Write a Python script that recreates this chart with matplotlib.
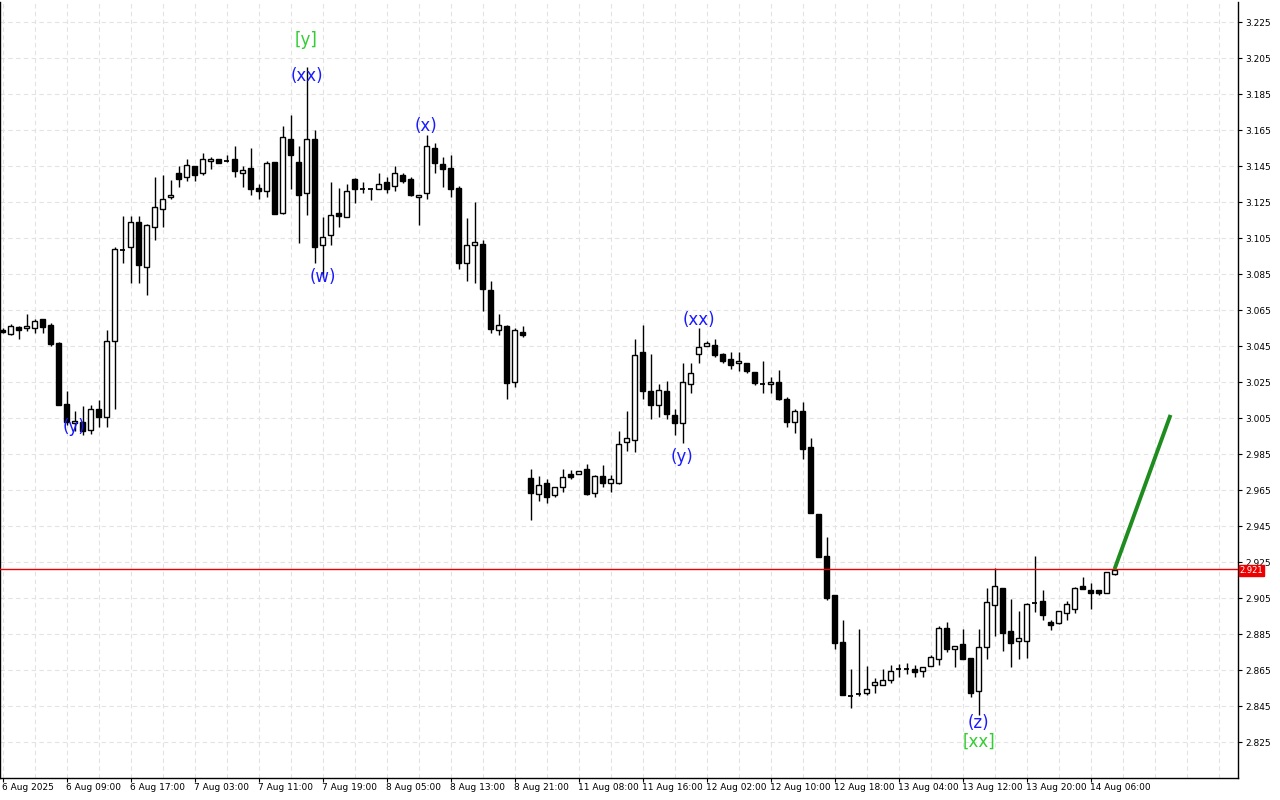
import matplotlib
matplotlib.use("Agg")
import matplotlib.pyplot as plt
import matplotlib.transforms as mtransforms
import numpy as np

opens = [3.0540, 3.0517, 3.0557, 3.0550, 3.0550, 3.0598, 3.0568, 3.0468, 3.0128, 3.0024,
         3.0028, 2.9983, 3.0098, 3.0054, 3.0476, 3.0987, 3.0998, 3.1140, 3.0887, 3.1109,
         3.1209, 3.1276, 3.1409, 3.1387, 3.1450, 3.1409, 3.1476, 3.1487, 3.1477, 3.1487,
         3.1409, 3.1439, 3.1328, 3.1309, 3.1472, 3.1187, 3.1598, 3.1472, 3.1298, 3.1598,
         3.1009, 3.1068, 3.1187, 3.1168, 3.1379, 3.1325, 3.1321, 3.1324, 3.1361, 3.1339,
         3.1398, 3.1376, 3.1276, 3.1298, 3.1550, 3.1461, 3.1439, 3.1328, 3.0913, 3.1013,
         3.1017, 3.0761, 3.0539, 3.0561, 3.0250, 3.0528, 2.9717, 2.9628, 2.9687, 2.9624,
         2.9665, 2.9739, 2.9739, 2.9765, 2.9635, 2.9728, 2.9691, 2.9691, 2.9917, 2.9928,
         3.0417, 3.0202, 3.0124, 3.0202, 3.0065, 3.0024, 3.0239, 3.0406, 3.0450, 3.0454,
         3.0406, 3.0376, 3.0354, 3.0354, 3.0306, 3.0240, 3.0239, 3.0250, 3.0154, 3.0028,
         3.0087, 2.9887, 2.9517, 2.9283, 2.9065, 2.8806, 2.8507, 2.8516, 2.8521, 2.8565,
         2.8568, 2.8594, 2.8653, 2.8657, 2.8657, 2.8643, 2.8672, 2.8713, 2.8883, 2.8768,
         2.8794, 2.8717, 2.8532, 2.8779, 2.9013, 2.9106, 2.8868, 2.8813, 2.8813, 2.9024,
         2.9032, 2.8917, 2.8913, 2.8965, 2.8991, 2.9117, 2.9094, 2.9094, 2.9079, 2.9183]
highs = [3.0550, 3.0570, 3.0560, 3.0628, 3.0602, 3.0602, 3.0576, 3.0470, 3.0202, 3.0087,
         3.0117, 3.0121, 3.0150, 3.0539, 3.0998, 3.1172, 3.1172, 3.1172, 3.1128, 3.1387,
         3.1398, 3.1372, 3.1450, 3.1487, 3.1452, 3.1520, 3.1498, 3.1490, 3.1510, 3.1561,
         3.1450, 3.1550, 3.1350, 3.1476, 3.1474, 3.1672, 3.1732, 3.1561, 3.2002, 3.1650,
         3.1168, 3.1361, 3.1328, 3.1350, 3.1381, 3.1361, 3.1322, 3.1413, 3.1387, 3.1450,
         3.1413, 3.1387, 3.1289, 3.1620, 3.1576, 3.1502, 3.1510, 3.1339, 3.1161, 3.1250,
         3.1039, 3.0809, 3.0628, 3.0565, 3.0550, 3.0561, 2.9765, 2.9728, 2.9713, 2.9667,
         2.9765, 2.9761, 2.9756, 2.9794, 2.9731, 2.9787, 2.9732, 2.9976, 3.0090, 3.0487,
         3.0565, 3.0406, 3.0239, 3.0257, 3.0102, 3.0354, 3.0354, 3.0550, 3.0476, 3.0487,
         3.0410, 3.0417, 3.0417, 3.0356, 3.0308, 3.0368, 3.0276, 3.0317, 3.0165, 3.0102,
         3.0139, 2.9939, 2.9518, 2.9390, 2.9067, 2.8928, 2.8657, 2.8879, 2.8672, 2.8606,
         2.8654, 2.8676, 2.8683, 2.8690, 2.8676, 2.8667, 2.8732, 2.8894, 2.8917, 2.8785,
         2.8879, 2.8719, 2.8876, 2.9106, 2.9217, 2.9108, 2.9043, 2.8976, 2.9022, 2.9283,
         2.9094, 2.8928, 2.8980, 2.9032, 2.9110, 2.9165, 2.9135, 2.9096, 2.9196, 2.9210]
lows = [3.0520, 3.0510, 3.0487, 3.0535, 3.0524, 3.0524, 3.0450, 3.0120, 3.0010, 2.9980,
        2.9956, 2.9960, 2.9998, 2.9998, 3.0102, 3.0910, 3.0798, 3.0798, 3.0735, 3.1039,
        3.1109, 3.1268, 3.1335, 3.1368, 3.1368, 3.1398, 3.1435, 3.1466, 3.1474, 3.1387,
        3.1335, 3.1287, 3.1268, 3.1276, 3.1181, 3.1185, 3.1320, 3.1024, 3.1176, 3.0913,
        3.0835, 3.1013, 3.1113, 3.1165, 3.1246, 3.1298, 3.1261, 3.1322, 3.1298, 3.1309,
        3.1357, 3.1285, 3.1120, 3.1268, 3.1409, 3.1335, 3.1276, 3.0876, 3.0809, 3.0798,
        3.0646, 3.0524, 3.0509, 3.0154, 3.0224, 3.0498, 2.9483, 2.9587, 2.9576, 2.9613,
        2.9639, 2.9713, 2.9737, 2.9625, 2.9609, 2.9668, 2.9639, 2.9685, 2.9865, 2.9861,
        3.0154, 3.0046, 3.0054, 3.0046, 2.9954, 2.9909, 3.0187, 3.0354, 3.0449, 3.0387,
        3.0354, 3.0324, 3.0313, 3.0298, 3.0235, 3.0187, 3.0187, 3.0150, 3.0002, 2.9965,
        2.9824, 2.9520, 2.9278, 2.9039, 2.8769, 2.8511, 2.8439, 2.8506, 2.8513, 2.8521,
        2.8565, 2.8579, 2.8613, 2.8628, 2.8613, 2.8613, 2.8670, 2.8679, 2.8750, 2.8665,
        2.8710, 2.8502, 2.8402, 2.8713, 2.8839, 2.8754, 2.8668, 2.8713, 2.8717, 2.8972,
        2.8928, 2.8872, 2.8906, 2.8928, 2.8965, 2.9098, 2.8991, 2.9065, 2.9077, 2.9180]
closes = [3.0530, 3.0560, 3.0539, 3.0561, 3.0590, 3.0557, 3.0461, 3.0124, 3.0028, 3.0035,
          2.9978, 3.0102, 3.0054, 3.0476, 3.0987, 3.0985, 3.1140, 3.0898, 3.1120, 3.1220,
          3.1268, 3.1287, 3.1376, 3.1457, 3.1398, 3.1487, 3.1487, 3.1468, 3.1475, 3.1420,
          3.1428, 3.1320, 3.1309, 3.1468, 3.1183, 3.1610, 3.1509, 3.1287, 3.1598, 3.0998,
          3.1057, 3.1176, 3.1172, 3.1309, 3.1324, 3.1322, 3.1320, 3.1350, 3.1324, 3.1409,
          3.1368, 3.1287, 3.1287, 3.1561, 3.1468, 3.1435, 3.1320, 3.0909, 3.1009, 3.1028,
          3.0765, 3.0546, 3.0565, 3.0246, 3.0539, 3.0513, 2.9635, 2.9676, 2.9613, 2.9665,
          2.9724, 2.9724, 2.9754, 2.9628, 2.9728, 2.9691, 2.9713, 2.9906, 2.9939, 3.0398,
          3.0202, 3.0124, 3.0206, 3.0072, 3.0024, 3.0250, 3.0298, 3.0446, 3.0465, 3.0398,
          3.0365, 3.0346, 3.0365, 3.0313, 3.0246, 3.0239, 3.0250, 3.0154, 3.0028, 3.0087,
          2.9876, 2.9524, 2.9280, 2.9050, 2.8802, 2.8513, 2.8505, 2.8518, 2.8543, 2.8583,
          2.8594, 2.8643, 2.8655, 2.8658, 2.8639, 2.8665, 2.8720, 2.8883, 2.8768, 2.8783,
          2.8713, 2.8521, 2.8779, 2.9028, 2.9117, 2.8854, 2.8802, 2.8828, 2.9017, 2.9025,
          2.8954, 2.8902, 2.8976, 2.9017, 2.9106, 2.9102, 2.9079, 2.9076, 2.9194, 2.9206]

date_labels = ["6 Aug 2025", "6 Aug 09:00", "6 Aug 17:00", "7 Aug 03:00", "7 Aug 11:00",
               "7 Aug 19:00", "8 Aug 05:00", "8 Aug 13:00", "8 Aug 21:00", "11 Aug 08:00",
               "11 Aug 16:00", "12 Aug 02:00", "12 Aug 10:00", "12 Aug 18:00", "13 Aug 04:00",
               "13 Aug 12:00", "13 Aug 20:00", "14 Aug 06:00"]
date_label_bars = [0, 8, 16, 24, 32, 40, 48, 56, 64, 72, 80, 88, 96, 104, 112, 120, 128, 136]

price_ticks = [3.225, 3.205, 3.185, 3.165, 3.145, 3.125, 3.105, 3.085, 3.065, 3.045, 3.025,
               3.005, 2.985, 2.965, 2.945, 2.925, 2.905, 2.885, 2.865, 2.845, 2.825]

current_price = 2.921
forecast_x = [139, 146]
forecast_y = [2.921, 3.0067]

wave_labels = [
    ("[y]", 38, 3.215, "#33cc33"),
    ("(xx)", 38, 3.195, "#1a1aff"),
    ("(w)", 40, 3.0833, "#1a1aff"),
    ("(x)", 53, 3.1672, "#1a1aff"),
    ("(y)", 9, 3.0000, "#1a1aff"),
    ("(xx)", 87, 3.0594, "#1a1aff"),
    ("(y)", 85, 2.9833, "#1a1aff"),
    ("(z)", 122, 2.8356, "#1a1aff"),
    ("[xx]", 122, 2.8250, "#33cc33"),
]

W, H = 1280, 800
fig = plt.figure(figsize=(W / 100, H / 100), dpi=100)
fig.patch.set_facecolor("white")
ax = fig.add_axes([0.0, 22 / H, 1238 / W, 776 / H])
ax.set_facecolor("white")

n = len(opens)
xs = np.arange(n)
ax.set_xlim(-0.3125, (1238 - 2.5) / 8)
ax.set_ylim(2.805, 3.225 + 20 / 1800)

# grid
for gx in range(0, 156, 4):
    ax.axvline(gx, color="#e3e3e3", lw=0.8, ls=(0, (4, 3)), zorder=0)
for gy in price_ticks:
    ax.axhline(gy, color="#e3e3e3", lw=0.8, ls=(0, (4, 3)), zorder=0)

# candles
bw = 0.66
for i in range(n):
    o, h, l, c = opens[i], highs[i], lows[i], closes[i]
    ax.vlines(xs[i], l, h, color="black", lw=1.0, zorder=2)
    lo, hi = min(o, c), max(o, c)
    if hi - lo < 0.0004:
        ax.hlines((o + c) / 2, xs[i] - bw / 2, xs[i] + bw / 2, color="black", lw=1.3, zorder=3)
    else:
        fc = "white" if c > o else "black"
        ax.bar(xs[i], hi - lo, bottom=lo, width=bw, facecolor=fc, edgecolor="black",
               linewidth=1.0, zorder=3)

# current price line
ax.axhline(current_price, color="#ee0000", lw=1.0, zorder=4)

# forecast line
ax.plot(forecast_x, forecast_y, color="#1e8c1e", lw=2.8, solid_capstyle="butt", zorder=5)

# wave labels
for txt, bx, py, col in wave_labels:
    ax.text(bx, py, txt, color=col, fontsize=12, ha="center", va="center", zorder=6,
            family="DejaVu Sans")

# axes styling
for s in ["left", "bottom", "right"]:
    ax.spines[s].set_color("black")
    ax.spines[s].set_linewidth(1.0)
ax.spines["top"].set_visible(False)

ax.yaxis.tick_right()
ax.set_yticks(price_ticks)
ax.set_yticklabels([f"{p:.3f}" for p in price_ticks], fontsize=6.5)
ax.tick_params(axis="y", direction="out", length=3, pad=2, colors="black")

ax.set_xticks(date_label_bars)
ax.set_xticklabels([])
ax.tick_params(axis="x", direction="out", length=3, colors="black")
trans = mtransforms.blended_transform_factory(ax.transData, ax.transAxes)
for bx, lab in zip(date_label_bars, date_labels):
    ax.text(bx - 0.06, -0.0125, lab, transform=trans, ha="left", va="center",
            fontsize=6.5, color="black")

# current price tag on axis
ax.text(1.0015, current_price - 0.0008, "2.921",
        transform=mtransforms.blended_transform_factory(ax.transAxes, ax.transData),
        ha="left", va="center", fontsize=6.0, color="white",
        bbox=dict(boxstyle="square,pad=0.08", facecolor="#ee0000", edgecolor="#ee0000"),
        zorder=7, clip_on=False)

fig.savefig("out.png", dpi=100, facecolor="white")
